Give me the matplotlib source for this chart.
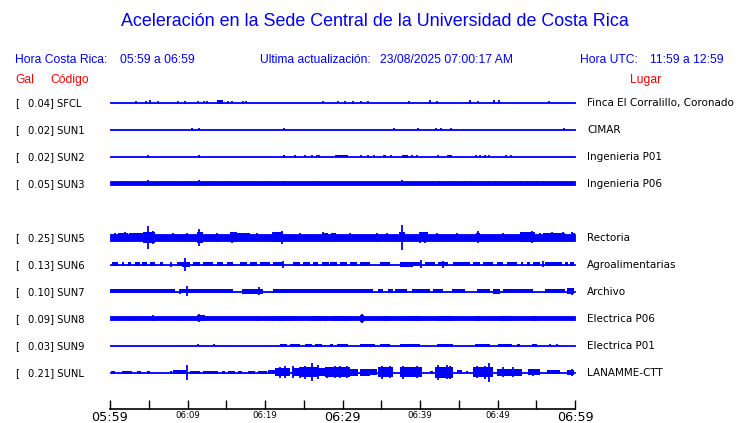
import matplotlib
matplotlib.use("Agg")
import matplotlib.pyplot as plt

# --- data (minutes after 05:59, amplitudes in reference pixels) ---
codes = ["SFCL", "SUN1", "SUN2", "SUN3", "SUN4", "SUN5", "SUN6", "SUN7", "SUN8", "SUN9", "SUNL"]
gals = [0.04, 0.02, 0.02, 0.05, None, 0.25, 0.13, 0.10, 0.09, 0.03, 0.21]
places = ["Finca El Corralillo, Coronado", "CIMAR", "Ingenieria P01", "Ingenieria P06", "",
          "Rectoria", "Agroalimentarias", "Archivo", "Electrica P06", "Electrica P01", "LANAMME-CTT"]

tick_minutes = [0, 10, 20, 30, 40, 50, 60]
tick_labels = ["05:59", "06:09", "06:19", "06:29", "06:39", "06:49", "06:59"]
big_ticks = ["05:59", "06:29", "06:59"]

# background half-width of each trace
bases = [0.5, 0.5, 0.5, 1.6, None, 3.5, 0.5, 0.5, 1.7, 0.5, 0.5]

sfcl_blocks = [(13.8, 14.6, 2.0)]
sfcl_spikes = [(3.4, 1.5), (4.6, 1.5), (5.2, 1.8), (6.2, 1.5), (8.8, 1.5), (9.7, 1.5), (11.4, 1.2),
               (12.1, 1.2), (12.5, 1.2), (15.2, 1.5), (15.7, 1.2), (17.2, 1.5), (17.5, 1.2), (27.5, 1.2),
               (29.4, 1.2), (30.3, 1.5), (31.4, 1.5), (32.4, 1.2), (33.3, 1.2), (38.6, 1.2), (41.3, 1.8),
               (42.2, 1.5), (46.5, 2.0), (47.5, 1.2), (49.5, 1.8), (50.2, 1.8), (56.6, 1.2)]

sun1_blocks = [(10.5, 10.7, 1.5)]
sun1_spikes = [(11.5, 1.0), (22.4, 1.0), (36.7, 0.8), (39.7, 1.2), (42.1, 1.2), (42.7, 1.2),
               (44.0, 1.5), (58.6, 1.5)]

sun2_blocks = [(22.3, 22.6, 1.5), (29.0, 30.7, 1.3), (35.2, 35.6, 1.3), (37.7, 38.5, 1.5), (43.5, 44.1, 1.3)]
sun2_spikes = [(4.9, 1.5), (11.5, 1.5), (23.9, 1.5), (25.2, 1.2), (26.0, 1.2), (26.7, 1.2), (27.0, 1.2),
               (32.4, 1.2), (33.3, 1.2), (34.1, 1.2), (36.3, 1.2), (39.0, 1.2), (39.6, 1.2), (42.3, 1.2),
               (47.2, 1.0), (47.7, 1.2), (48.4, 1.5), (48.9, 1.2), (51.1, 1.2), (51.7, 1.2)]

sun3_blocks = []
sun3_spikes = [(1.6, 2.0), (4.9, 2.6), (6.9, 2.0), (7.7, 2.0), (9.9, 2.0), (11.5, 2.6), (13.4, 2.0),
               (15.1, 2.0), (17.4, 2.0), (18.1, 2.0), (20.1, 2.0), (22.5, 2.2), (26.7, 2.2), (37.7, 2.6),
               (42.5, 2.4), (43.9, 2.2), (45.8, 2.0), (46.7, 2.0), (48.8, 2.0), (49.8, 2.0), (52.9, 2.0),
               (53.9, 2.0), (55.1, 2.2)]

sun4_blocks = []
sun4_spikes = []

sun5_blocks = [(1.0, 2.3, 4.2), (2.5, 4.3, 3.9), (4.3, 5.8, 5.5), (11.2, 12.0, 5.5), (15.5, 16.4, 4.7),
               (16.2, 18.0, 4.0), (21.0, 22.3, 4.7), (27.4, 28.1, 4.2), (28.5, 29.2, 4.0), (37.3, 38.1, 4.7),
               (40.0, 41.0, 4.7), (47.2, 47.8, 4.2), (52.9, 54.8, 4.7), (55.9, 58.7, 4.2), (59.5, 60.0, 4.2)]
sun5_spikes = [(0.6, 4.5), (1.9, 5.0), (3.0, 4.2), (4.9, 11.5), (5.5, 6.5), (8.1, 4.2), (9.9, 4.5),
               (11.5, 8.5), (13.8, 4.5), (15.7, 5.5), (16.1, 5.0), (19.0, 4.2), (21.0, 5.0), (22.2, 6.5),
               (24.5, 4.2), (27.5, 5.0), (28.8, 4.5), (31.0, 4.2), (34.5, 4.5), (35.7, 4.2), (37.7, 12.5),
               (40.0, 5.5), (40.6, 5.5), (42.2, 4.5), (44.8, 4.2), (47.5, 6.0), (50.7, 4.2), (53.3, 4.5),
               (54.5, 6.0), (55.5, 4.5), (57.0, 5.0), (58.5, 5.0), (59.6, 5.0)]

sun6_blocks = [(0.3, 1.0, 2.0), (1.5, 1.8, 1.6), (2.3, 2.7, 1.6), (3.2, 3.9, 1.6), (4.1, 4.8, 1.6),
               (5.2, 5.8, 1.6), (6.5, 6.8, 1.6), (8.6, 9.3, 1.8), (9.3, 10.3, 2.5), (10.7, 11.6, 1.8),
               (12.0, 13.3, 1.8), (13.8, 14.6, 1.8), (15.1, 15.9, 1.6), (16.8, 17.7, 1.6), (18.1, 19.0, 1.6),
               (19.4, 20.6, 1.6), (21.0, 22.3, 1.8), (23.6, 24.5, 1.6), (24.9, 25.8, 1.6), (26.2, 26.8, 1.6),
               (27.4, 28.2, 1.6), (28.4, 29.3, 1.6), (29.7, 30.6, 1.6), (31.0, 31.9, 1.6), (32.3, 33.5, 1.6),
               (34.8, 36.1, 1.6), (37.4, 39.1, 2.5), (39.1, 40.0, 1.8), (40.6, 41.9, 1.8), (42.3, 43.6, 1.8),
               (44.3, 46.5, 1.6), (46.8, 47.7, 1.6), (48.1, 49.4, 1.6), (49.9, 50.7, 1.6), (51.2, 52.5, 1.6),
               (53.0, 53.3, 1.6), (53.8, 54.2, 1.6), (54.6, 55.5, 1.6), (56.1, 58.3, 1.8), (58.7, 59.1, 1.6),
               (59.4, 59.9, 1.8)]
sun6_spikes = [(9.7, 6.5), (7.9, 2.5), (22.3, 3.5), (40.1, 4.0), (43.0, 3.5), (55.9, 3.0)]

sun7_blocks = [(0.0, 8.4, 1.8), (9.0, 11.6, 2.0), (11.6, 15.9, 1.6), (17.0, 19.7, 2.5), (21.0, 24.5, 2.0),
               (24.5, 33.5, 1.6), (33.5, 33.9, 1.6), (34.6, 35.2, 1.6), (35.9, 36.5, 1.6), (36.8, 38.3, 1.8),
               (39.0, 41.3, 1.8), (41.7, 43.0, 1.8), (44.1, 45.8, 1.8), (47.4, 49.0, 1.8), (49.4, 50.3, 2.5),
               (50.7, 54.6, 1.8), (56.1, 58.7, 1.8), (59.0, 59.9, 3.0)]
sun7_spikes = [(9.9, 5.3), (19.2, 4.0), (9.0, 2.5), (59.6, 3.5)]

sun8_blocks = [(11.2, 12.3, 3.0), (21.5, 22.6, 2.5), (23.9, 24.1, 2.5), (25.9, 27.4, 2.5), (28.6, 30.7, 2.5),
               (29.7, 31.0, 2.5), (32.3, 32.8, 3.5), (35.2, 36.1, 2.5), (37.5, 37.8, 2.5), (38.3, 40.1, 2.5),
               (42.3, 44.3, 2.5), (47.1, 47.7, 2.5), (48.9, 49.2, 2.5), (50.2, 51.9, 2.5), (54.5, 55.1, 2.5)]
sun8_spikes = [(3.0, 2.5), (5.0, 2.2), (5.5, 3.0), (8.8, 2.5), (10.3, 2.2), (11.5, 4.0), (19.0, 2.5),
               (20.9, 2.5), (23.0, 2.5), (23.2, 2.5), (27.7, 2.5), (32.5, 4.5), (33.7, 2.5), (52.6, 2.5)]

sun9_blocks = [(21.9, 22.8, 1.5), (23.2, 24.5, 1.5), (25.2, 26.1, 1.5), (26.5, 27.4, 1.5), (28.4, 28.8, 1.5),
               (29.3, 30.7, 1.5), (32.3, 33.5, 1.5), (33.5, 34.2, 1.5), (34.8, 36.1, 1.5), (37.4, 40.0, 1.5),
               (42.2, 44.3, 1.5), (47.1, 49.0, 1.5), (50.1, 51.9, 1.5), (52.5, 52.9, 1.5), (54.5, 55.1, 1.5)]
sun9_spikes = [(11.3, 1.2), (13.4, 1.0), (56.8, 1.2), (57.7, 1.2)]

sunl_blocks = [(0.1, 0.6, 1.5), (1.5, 2.8, 1.5), (3.5, 4.0, 1.5), (4.8, 5.2, 1.5), (7.7, 8.0, 1.5),
               (8.1, 9.8, 2.0), (10.3, 11.6, 1.5), (12.0, 13.2, 1.5), (13.2, 13.9, 1.5), (14.5, 14.8, 1.5),
               (15.2, 16.1, 1.5), (16.5, 17.0, 1.5), (17.8, 18.7, 1.5), (19.1, 20.3, 1.5), (20.4, 21.3, 2.0),
               (21.3, 23.2, 4.2), (23.5, 24.5, 4.2), (24.5, 26.1, 4.7), (26.1, 26.7, 5.2), (26.7, 27.7, 3.7),
               (27.7, 28.8, 4.7), (28.8, 31.0, 4.7), (31.0, 32.0, 3.5), (32.2, 33.5, 3.5), (33.5, 34.5, 3.0),
               (34.6, 36.5, 5.0), (37.4, 40.3, 5.0), (41.3, 41.7, 1.5), (41.9, 44.3, 5.5), (44.8, 45.4, 2.0),
               (45.9, 46.2, 1.5), (46.8, 49.4, 5.0), (49.9, 53.2, 3.5), (53.9, 55.5, 3.0), (56.4, 58.1, 2.0),
               (59.0, 59.9, 2.5)]
sunl_spikes = [(9.9, 7.5), (21.9, 5.5), (22.6, 6.0), (23.6, 6.0), (24.5, 5.5), (25.2, 6.5), (26.1, 9.0),
               (26.8, 7.0), (28.0, 5.5), (29.0, 6.0), (29.7, 6.0), (30.6, 6.0), (35.1, 6.5), (36.1, 6.0),
               (37.8, 6.5), (39.6, 6.0), (42.3, 7.5), (43.5, 7.0), (43.9, 6.5), (47.4, 6.0), (48.4, 6.5),
               (48.9, 9.5), (50.7, 5.0), (52.0, 5.0), (54.6, 3.5), (59.6, 3.5)]

blocks = [sfcl_blocks, sun1_blocks, sun2_blocks, sun3_blocks, sun4_blocks, sun5_blocks,
          sun6_blocks, sun7_blocks, sun8_blocks, sun9_blocks, sunl_blocks]
spikes = [sfcl_spikes, sun1_spikes, sun2_spikes, sun3_spikes, sun4_spikes, sun5_spikes,
          sun6_spikes, sun7_spikes, sun8_spikes, sun9_spikes, sunl_spikes]

# --- styling ---
W, H = 740, 423
ROW_PX = 27.0          # trace spacing in the reference, used to scale amplitudes
BLUE = "#0000ff"
RED = "#ff0000"

fig = plt.figure(figsize=(W / 100, H / 100), dpi=100)
ax = fig.add_axes([110 / W, (H - 409) / H, 465 / W, (409 - 88) / H])
ax.set_xlim(0, 60)
ax.set_ylim((409 - 102) / ROW_PX, -(102 - 88) / ROW_PX)

for row, code in enumerate(codes):
    if gals[row] is None:
        continue
    base = bases[row] / ROW_PX
    ax.fill_between([0, 60], row - base, row + base, color=BLUE, lw=0.6)
    for (t0, t1, amp) in blocks[row]:
        a = amp / ROW_PX
        ax.broken_barh([(t0, t1 - t0)], (row - a, 2 * a), facecolors=BLUE, lw=0)
    if spikes[row]:
        xs = [s[0] for s in spikes[row]]
        amps = [s[1] / ROW_PX for s in spikes[row]]
        ax.vlines(xs, [row - a for a in amps], [row + a for a in amps], color=BLUE, lw=1.3)

    # labels on both sides
    y_fig = 1 - (102 + row * ROW_PX) / H
    lbl = dict(fontsize=7.2, va="center_baseline", ha="left")
    fig.text(15 / W, y_fig, "[", **lbl)
    fig.text(28 / W, y_fig, f"{gals[row]:.2f}] {code}", **lbl)
    fig.text(587 / W, y_fig, places[row], fontsize=7.5, va="center_baseline", ha="left")

for s in ["left", "right", "top"]:
    ax.spines[s].set_visible(False)
ax.spines["bottom"].set_linewidth(1.2)
ax.set_yticks([])
ax.set_xticks(tick_minutes)
ax.set_xticklabels(tick_labels)
ax.set_xticks([5, 15, 25, 35, 45, 55], minor=True)
ax.tick_params(axis="x", which="both", direction="in", length=6.5, width=1.0, pad=1.5)
for lab in ax.get_xticklabels():
    lab.set_fontsize(9.2 if lab.get_text() in big_ticks else 6.2)

# header
hdr = dict(family="Liberation Sans", fontsize=8.7, va="center")
fig.text(375 / W, 1 - 22 / H, "Aceleración en la Sede Central de la Universidad de Costa Rica",
         family="Liberation Sans", fontsize=12.9, color=BLUE, ha="center", va="center")
fig.text(15 / W, 1 - 60 / H, "Hora Costa Rica:", color=BLUE, **hdr)
fig.text(120 / W, 1 - 60 / H, "05:59 a 06:59", color=BLUE, **hdr)
fig.text(260 / W, 1 - 60 / H, "Ultima actualización:", color=BLUE, **hdr)
fig.text(380 / W, 1 - 60 / H, "23/08/2025 07:00:17 AM", color=BLUE, **hdr)
fig.text(580 / W, 1 - 60 / H, "Hora UTC:", color=BLUE, **hdr)
fig.text(650 / W, 1 - 60 / H, "11:59 a 12:59", color=BLUE, **hdr)
fig.text(15 / W, 1 - 80 / H, "Gal", color=RED, **hdr)
fig.text(50 / W, 1 - 80 / H, "Código", color=RED, **hdr)
fig.text(630 / W, 1 - 80 / H, "Lugar", color=RED, **hdr)

fig.savefig("out.png", dpi=100)
